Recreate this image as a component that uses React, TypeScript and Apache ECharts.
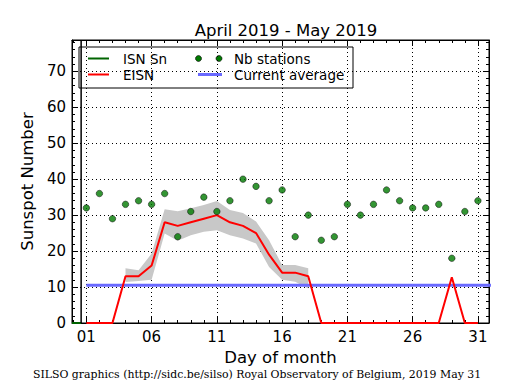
import React, { useEffect, useRef } from "react";
import * as echarts from "echarts";

const title = "April 2019 - May 2019";
const xAxisName = "Day of month";
const yAxisName = "Sunspot Number";
const footer = "SILSO graphics (http://sidc.be/silso) Royal Observatory of Belgium, 2019 May 31";

const days = [1, 2, 3, 4, 5, 6, 7, 8, 9, 10, 11, 12, 13, 14, 15, 16, 17, 18, 19, 20, 21, 22, 23, 24, 25, 26, 27, 28, 29, 30, 31];
const stations = [32, 36, 29, 33, 34, 33, 36, 24, 31, 35, 31, 34, 40, 38, 34, 37, 24, 30, 23, 24, 33, 30, 33, 37, 34, 32, 32, 33, 18, 31, 34];
const eisn = [0, 0, 0, 13, 13, 16, 28, 27, 28, 29, 30, 28, 27, 25, 19, 14, 14, 13, 0, 0, 0, 0, 0, 0, 0, 0, 0, 0, 12.7, 0, 0];

const bandDays = [4, 5, 6, 7, 8, 9, 10, 11, 12, 13, 14, 15, 16, 17, 18];
const bandUpper = [15.2, 14.7, 19.3, 31.6, 31.1, 31.9, 32.8, 33.9, 31.4, 30.6, 28.2, 23.0, 16.1, 16.1, 15.2];
const bandLower = [11.4, 11.7, 12.0, 24.9, 22.9, 24.4, 25.4, 25.8, 24.4, 23.5, 22.1, 15.6, 12.0, 11.5, 9.6];

const currentAverage = 10.5;
const averageDays = [1, 32];

const isnDays = [-0.1, 0.6];
const isnValues = [0, 0];
const boundaryDay = 0.6;

const xTickLabels = ["01", "06", "11", "16", "21", "26", "31"];
const xTickDays = [1, 6, 11, 16, 21, 26, 31];
const yTickLabels = ["0", "10", "20", "30", "40", "50", "60", "70"];

const X_MIN_DAY = -0.1;
const X_MAX_DAY = 31.85;
const Y_MAX = 78.7;
const DAY_SHIFT = 1; // axis value = day - DAY_SHIFT, so ticks land on 01, 06, 11...

const FONT = "DejaVu Sans";

export default function App() {
  const ref = useRef<HTMLDivElement>(null);

  useEffect(() => {
    if (!ref.current) return;
    const chart = echarts.init(ref.current, null, { renderer: "svg" });
    const sx = (d: number) => d - DAY_SHIFT;

    const xLabel = (v: number) => {
      const i = xTickDays.indexOf(Math.round((v + DAY_SHIFT) * 1000) / 1000);
      return i >= 0 ? xTickLabels[i] : "";
    };
    const yLabel = (v: number) => {
      const i = yTickLabels.indexOf(String(v));
      return i >= 0 ? yTickLabels[i] : "";
    };

    const baseX = {
      type: "value",
      min: sx(X_MIN_DAY),
      max: sx(X_MAX_DAY),
      splitNumber: 6,
      axisLine: { show: true, onZero: false, lineStyle: { color: "#000", width: 1 } },
      axisTick: { show: true, inside: true, length: 6, lineStyle: { color: "#000", width: 1 } },
      minorTick: { show: true, splitNumber: 5, length: 3, lineStyle: { color: "#000", width: 1 } },
    };
    const baseY = {
      type: "value",
      min: 0,
      max: Y_MAX,
      interval: 10,
      axisLine: { show: true, onZero: false, lineStyle: { color: "#000", width: 1 } },
      axisTick: { show: true, inside: true, length: 6, lineStyle: { color: "#000", width: 1 } },
      minorTick: { show: true, splitNumber: 5, length: 3, lineStyle: { color: "#000", width: 1 } },
    };

    const legendY1 = 58.5;
    const legendY2 = 74.5;
    const legendFont = { fontFamily: FONT, fontSize: 13.5, fill: "#000" };
    const dotColor = "#007a00";

    chart.setOption({
      animation: false,
      backgroundColor: "#fff",
      title: {
        text: title,
        left: 281,
        top: 17,
        textAlign: "center",
        textStyle: { fontFamily: FONT, fontSize: 16.5, fontWeight: "normal", color: "#000" },
      },
      grid: {
        left: 72,
        right: 26,
        top: 40,
        bottom: 67,
        show: true,
        backgroundColor: "#fff",
        borderColor: "#000",
        borderWidth: 1,
      },
      xAxis: [
        {
          ...baseX,
          position: "bottom",
          name: xAxisName,
          nameLocation: "middle",
          nameGap: 25,
          nameTextStyle: { fontFamily: FONT, fontSize: 16.5, color: "#000" },
          axisLabel: { show: true, margin: 6, fontFamily: FONT, fontSize: 15, color: "#000", formatter: xLabel },
          splitLine: { show: true, lineStyle: { color: "#000", width: 1, type: [1, 3] } },
        },
        {
          ...baseX,
          position: "top",
          axisLabel: { show: false },
          splitLine: { show: false },
        },
      ],
      yAxis: [
        {
          ...baseY,
          position: "left",
          name: yAxisName,
          nameLocation: "middle",
          nameGap: 34,
          nameTextStyle: { fontFamily: FONT, fontSize: 16.5, color: "#000" },
          axisLabel: { show: true, margin: 6, fontFamily: FONT, fontSize: 15, color: "#000", formatter: yLabel },
          splitLine: { show: true, lineStyle: { color: "#000", width: 1, type: [1, 3] } },
        },
        {
          ...baseY,
          position: "right",
          axisLabel: { show: false },
          splitLine: { show: false },
        },
      ],
      series: [
        {
          name: "band",
          type: "custom",
          data: bandDays.map((d, i) => [sx(d), bandLower[i], bandUpper[i]]),
          encode: { x: 0, y: [1, 2] },
          silent: true,
          z: 1,
          renderItem: (params: any, api: any) => {
            if (params.dataIndex !== 0) return null;
            const upper = bandDays.map((d, i) => api.coord([sx(d), bandUpper[i]]));
            const lower = bandDays.map((d, i) => api.coord([sx(d), bandLower[i]])).reverse();
            return {
              type: "polygon",
              shape: { points: upper.concat(lower) },
              style: { fill: "#c8c8c8", stroke: "none" },
            };
          },
        },
        {
          name: "Current average",
          type: "line",
          data: averageDays.map((d) => [sx(d), currentAverage]),
          symbol: "none",
          lineStyle: { color: "#6a6aff", width: 3 },
          z: 2,
        },
        {
          name: "EISN",
          type: "line",
          data: days.map((d, i) => [sx(d), eisn[i]]),
          symbol: "none",
          lineStyle: { color: "#ff0000", width: 2 },
          z: 3,
        },
        {
          name: "ISN Sn",
          type: "line",
          data: isnDays.map((d, i) => [sx(d), isnValues[i]]),
          symbol: "none",
          lineStyle: { color: "#006400", width: 2 },
          z: 3,
        },
        {
          name: "boundary",
          type: "line",
          data: [[sx(boundaryDay), 0], [sx(boundaryDay), Y_MAX]],
          symbol: "none",
          lineStyle: { color: "#000", width: 1.5 },
          z: 3,
        },
        {
          name: "Nb stations",
          type: "scatter",
          data: days.map((d, i) => [sx(d), stations[i]]),
          symbolSize: 6.5,
          itemStyle: { color: dotColor, borderColor: "#000", borderWidth: 0.6 },
          z: 4,
        },
      ],
      graphic: [
        {
          type: "group",
          z: 100,
          children: [
            { type: "rect", shape: { x: 79, y: 47, width: 274, height: 41 }, style: { fill: "#fff", stroke: "#000", lineWidth: 1 } },
            { type: "line", shape: { x1: 88, y1: legendY1, x2: 109, y2: legendY1 }, style: { stroke: "#006400", lineWidth: 2 } },
            { type: "text", x: 123, y: legendY1, style: { text: "ISN Sn", ...legendFont, verticalAlign: "middle" } },
            { type: "line", shape: { x1: 88, y1: legendY2, x2: 109, y2: legendY2 }, style: { stroke: "#ff0000", lineWidth: 2 } },
            { type: "text", x: 123, y: legendY2, style: { text: "EISN", ...legendFont, verticalAlign: "middle" } },
            { type: "circle", shape: { cx: 198.5, cy: legendY1, r: 3 }, style: { fill: dotColor, stroke: "#000", lineWidth: 0.6 } },
            { type: "circle", shape: { cx: 219, cy: legendY1, r: 3 }, style: { fill: dotColor, stroke: "#000", lineWidth: 0.6 } },
            { type: "text", x: 234, y: legendY1, style: { text: "Nb stations", ...legendFont, verticalAlign: "middle" } },
            { type: "line", shape: { x1: 198, y1: legendY2, x2: 222, y2: legendY2 }, style: { stroke: "#6a6aff", lineWidth: 3 } },
            { type: "text", x: 234, y: legendY2, style: { text: "Current average", ...legendFont, verticalAlign: "middle" } },
          ],
        },
        {
          type: "text",
          left: 33,
          top: 369,
          z: 100,
          style: { text: footer, fontFamily: "DejaVu Serif", fontSize: 10.9, fill: "#000" },
        },
      ],
    });

    return () => chart.dispose();
  }, []);

  return (
    <div
      ref={ref}
      style={{ position: "absolute", left: 0, top: 0, width: 515, height: 390, background: "#fff" }}
    />
  );
}
